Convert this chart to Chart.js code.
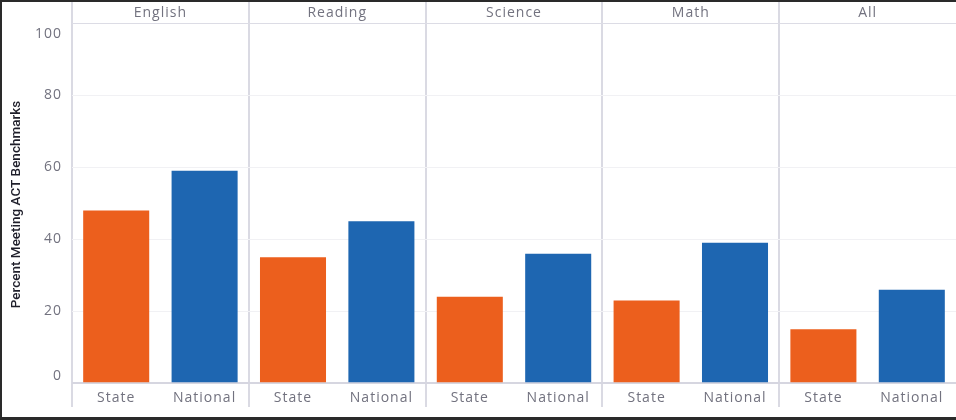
<!DOCTYPE html>
<html>
<head>
<meta charset="utf-8">
<script src="https://cdn.jsdelivr.net/npm/chart.js@4.4.1/dist/chart.umd.min.js"></script>
<style>
  html, body { margin: 0; padding: 0; background: #fff; }
  #frame {
    position: absolute; left: 0; top: 0;
    width: 954px; height: 415px;
    border-top: 2px solid #2a2a2a;
    border-left: 2px solid #2a2a2a;
    border-bottom: 3px solid #2a2a2a;
    background: #fff;
  }
  canvas { display: block; }
</style>
</head>
<body>
<div id="frame"><canvas id="c" width="954" height="415"></canvas></div>
<script>
// ---- data ----
const subjects = ['English', 'Reading', 'Science', 'Math', 'All'];
const groups = ['State', 'National'];
const stateValues = [48, 35, 24, 23, 15];
const nationalValues = [59, 45, 36, 39, 26];
const yTicks = [0, 20, 40, 60, 80, 100];
const yTitle = 'Percent Meeting ACT Benchmarks';

// ---- styling ----
const ORANGE = '#EC5F1D';
const BLUE = '#1E66B1';
const TICK_COLOR = '#72727f';
const DIVIDER = '#dadae3';

// build the interleaved table for the library
const barLabels = [], barValues = [], barColors = [];
subjects.forEach((s, i) => {
  barLabels.push(groups[0], groups[1]);
  barValues.push(stateValues[i], nationalValues[i]);
  barColors.push(ORANGE, BLUE);
});

const trackingPlugin = {
  id: 'tracking',
  beforeDraw(chart) { chart.ctx.letterSpacing = '1px'; },
  afterLayout(chart) {
    const y = chart.scales.y;
    if (y && !y._noTrackTitle) {
      const orig = y.drawTitle.bind(y);
      y.drawTitle = function () {
        const ctx = this.ctx;
        const prev = ctx.letterSpacing;
        ctx.letterSpacing = '0px';
        orig();
        ctx.letterSpacing = prev;
      };
      y._noTrackTitle = true;
    }
  }
};

new Chart(document.getElementById('c'), {
  type: 'bar',
  data: {
    labels: barLabels,
    datasets: [{
      data: barValues,
      backgroundColor: barColors,
      borderWidth: 0,
      barPercentage: 0.747,
      categoryPercentage: 1.0,
      xAxisID: 'x',
      yAxisID: 'y'
    }]
  },
  plugins: [trackingPlugin],
  options: {
    responsive: false,
    animation: false,
    layout: { padding: { top: 0, left: 0, right: 0, bottom: 10 } },
    plugins: { legend: { display: false }, tooltip: { enabled: false } },
    scales: {
      x: {
        type: 'category',
        position: 'bottom',
        offset: true,
        grid: {
          offset: true,
          drawTicks: false,
          color: c => (c.index !== undefined && c.index % 2 === 0) ? DIVIDER : 'rgba(0,0,0,0)',
          lineWidth: 2
        },
        border: { display: false },
        ticks: {
          mirror: true, padding: 0, maxRotation: 0, autoSkip: false,
          color: TICK_COLOR,
          font: { family: "'Open Sans', sans-serif", size: 14, lineHeight: 18 / 14 }
        }
      },
      x2: {
        type: 'category',
        position: 'top',
        labels: subjects,
        offset: true,
        grid: { display: false, drawTicks: false },
        border: { display: false },
        ticks: {
          mirror: true, padding: 0, maxRotation: 0, autoSkip: false,
          color: TICK_COLOR,
          font: { family: "'Open Sans', sans-serif", size: 14, lineHeight: 23 / 14 }
        }
      },
      y: {
        type: 'linear',
        min: -6.6,
        max: 105.9,
        afterBuildTicks: s => { s.ticks = yTicks.map(v => ({ value: v })); },
        afterFit: s => { s.width = 70; s.paddingTop = 0; s.paddingBottom = 0; },
        grid: {
          drawTicks: false,
          color: c => {
            const v = c.tick ? c.tick.value : null;
            if (v === 100) return '#dcdce5';
            if (v === 0) return '#d6d6e0';
            return '#f1f1f4';
          },
          lineWidth: c => (c.tick && c.tick.value === 0) ? 2 : 1
        },
        border: { display: false },
        ticks: {
          padding: 10,
          color: TICK_COLOR,
          callback: v => v === 0 ? ['0', ''] : (v === 100 ? ['', '100'] : String(v)),
          font: c => {
            const v = c.tick ? c.tick.value : null;
            let lh = 1.2;
            if (v === 0) lh = 14 / 14;
            if (v === 100) lh = 22 / 14;
            return { family: "'Open Sans', sans-serif", size: 14, lineHeight: lh };
          }
        },
        title: {
          display: true,
          text: yTitle,
          color: '#1e1e2a',
          font: { family: 'Roboto, sans-serif', size: 13.5, weight: '500' },
          padding: { top: 7, bottom: 0 }
        }
      }
    }
  }
});
</script>
</body>
</html>
